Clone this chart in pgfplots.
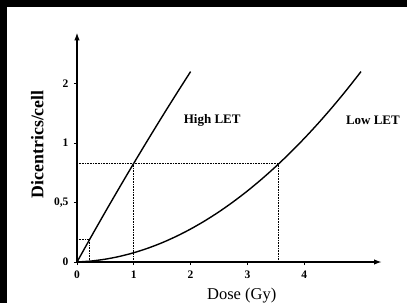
\documentclass[border=0pt]{standalone}
\usepackage{fontspec}
\setmainfont{Liberation Serif}
\usepackage{pgfplots}
\pgfplotsset{compat=1.18}
\usetikzlibrary{arrows.meta}
\begin{document}
\begin{tikzpicture}
\path[use as bounding box] (-77pt,-41pt) rectangle (330pt,262pt);
\fill[white] (-77pt,-41pt) rectangle (330pt,262pt);
\fill[black] (-77pt,255pt) rectangle (330pt,262pt);
\fill[black] (-77pt,-41pt) rectangle (-70pt,262pt);
\begin{axis}[
  anchor=origin, at={(0pt,0pt)},
  x=56.8pt, y=119pt,
  xmin=0, xmax=5.37, ymin=0, ymax=1.93,
  axis lines=left,
  axis line style={line width=1.7pt, -{Latex[length=8pt,width=5.5pt]}},
  clip=false,
  xtick={0,1,2,3,4},
  ytick={0,0.5,1,1.5},
  yticklabels={0,{0,5},1,2},
  tick align=outside,
  major tick length=3pt,
  tick style={black, line width=0.8pt},
  /pgf/number format/assume math mode=true,
  tick label style={font=\fontsize{11.5}{13}\selectfont\bfseries},
  xticklabel style={yshift=-2.5pt},
  yticklabel style={xshift=-2pt},
  xlabel={Dose (Gy)},
  xlabel style={at={(axis cs:2.9,-0.311)}, anchor=base, font=\fontsize{16.5}{18}\selectfont},
  ylabel={Dicentrics/cell},
  ylabel style={at={(axis cs:-0.70,0.99)}, anchor=center, font=\fontsize{17.8}{20}\selectfont\bfseries},
]
% dotted guide lines
\addplot[black, line width=0.6pt, dash pattern=on 0.8pt off 0.8pt] coordinates {(0,0.19) (0.21,0.19) (0.21,0)};
\addplot[black, line width=0.6pt, dash pattern=on 0.8pt off 0.8pt] coordinates {(0,0.83) (3.55,0.83) (3.55,0)};
\addplot[black, line width=0.6pt, dash pattern=on 0.8pt off 0.8pt] coordinates {(1,0.83) (1,0)};
% High LET
\addplot[black, line width=1.4pt, smooth] coordinates {
(0,0) (0.25,0.213) (0.5,0.4225) (0.75,0.628) (1,0.83) (1.25,1.028) (1.5,1.2225) (1.75,1.413) (2,1.6)};
% Low LET
\addplot[black, line width=1.4pt, smooth] coordinates {
(0,0) (0.25,0.0082) (0.5,0.0239) (0.75,0.0471) (1,0.078) (1.25,0.1164) (1.5,0.1624) (1.75,0.2159)
(2,0.277) (2.25,0.3457) (2.5,0.4219) (2.75,0.5056) (3,0.597) (3.25,0.6959) (3.5,0.8024)
(3.75,0.9164) (4,1.038) (4.25,1.1672) (4.5,1.3039) (4.75,1.4481) (5,1.6)};
\node[font=\fontsize{13}{15}\selectfont\bfseries] at (axis cs:2.38,1.19) {High LET};
\node[font=\fontsize{13}{15}\selectfont\bfseries] at (axis cs:5.21,1.19) {Low LET};
\end{axis}
\end{tikzpicture}
\end{document}
